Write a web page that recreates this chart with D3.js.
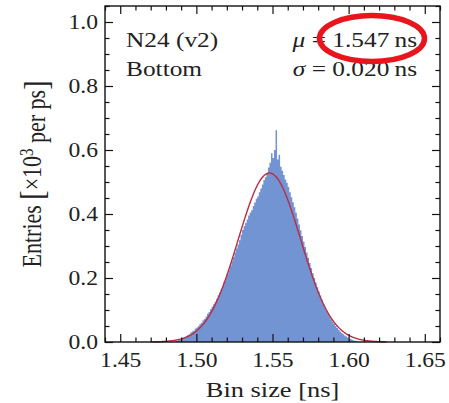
<!DOCTYPE html>
<html><head><meta charset="utf-8">
<script src="https://cdn.jsdelivr.net/npm/d3@7"></script>
<style>body{margin:0;background:#fff}svg text{font-family:"Liberation Serif","Times New Roman",serif;fill:#222}</style>
</head><body>
<svg id="c" width="449" height="403"></svg>
<script>
// ---- data ----
const binStart = 1.486;          // left edge of first bin [ns]
const binWidth = 0.001;          // 1 ps bins
const entries = [                // entries [x10^3 per ps]
  0.003,0.004,0.006,0.008,0.010,0.012,0.016,0.018,0.022,0.024,
  0.030,0.033,0.036,0.042,0.045,0.050,0.056,0.060,0.068,0.072,
  0.080,0.088,0.094,0.102,0.110,0.118,0.126,0.135,0.146,0.155,
  0.166,0.175,0.188,0.200,0.212,0.224,0.238,0.252,0.265,0.280,
  0.292,0.305,0.318,0.335,0.350,0.362,0.372,0.383,0.395,0.405,
  0.412,0.425,0.436,0.448,0.455,0.468,0.480,0.492,0.506,0.515,
  0.528,0.545,0.560,0.590,0.575,0.600,0.662,0.570,0.585,0.548,
  0.535,0.522,0.508,0.498,0.484,0.468,0.452,0.437,0.421,0.404,
  0.386,0.367,0.349,0.331,0.314,0.297,0.280,0.263,0.247,0.231,
  0.215,0.200,0.186,0.171,0.158,0.145,0.132,0.119,0.106,0.097,
  0.089,0.080,0.071,0.063,0.057,0.050,0.044,0.038,0.033,0.028,
  0.024,0.020,0.017,0.014,0.011,0.009,0.007,0.005,0.004,0.003
];
const xTicks = [1.45, 1.50, 1.55, 1.60, 1.65];
const xTickLabels = ["1.45", "1.50", "1.55", "1.60", "1.65"];
const yTicks = [0.0, 0.2, 0.4, 0.6, 0.8, 1.0];
const yTickLabels = ["0.0", "0.2", "0.4", "0.6", "0.8", "1.0"];
const fitMu = 1.548, fitSigma = 0.0205, fitAmp = 0.528;   // fitted Gaussian
const infoLeft = ["N24 (v2)", "Bottom"];
const muText = "1.547", sigmaText = "0.020";

// ---- layout ----
const svg = d3.select("#c");
const L = 105, R = 440, T = 6, B = 342;
const SX = 1.18;
const x = d3.scaleLinear().domain([1.44, 1.66]).range([L, R]);
const y = d3.scaleLinear().domain([0, 1.05]).range([B, T]);

// histogram
const pts = entries.map((v, i) => [binStart + i * binWidth, v]);
pts.push([binStart + entries.length * binWidth, entries[entries.length - 1]]);
const area = d3.area().curve(d3.curveStepAfter)
  .x(d => x(d[0])).y0(y(0)).y1(d => y(d[1]));
svg.append("path").datum(pts).attr("d", area)
  .attr("fill", "#6a8ed0").attr("fill-opacity", 0.95);

// fit curve
const fx = d3.range(1.47, 1.625, 0.0005);
const line = d3.line().x(d => x(d)).y(d => y(fitAmp * Math.exp(-0.5 * Math.pow((d - fitMu) / fitSigma, 2))));
svg.append("path").datum(fx).attr("d", line)
  .attr("fill", "none").attr("stroke", "#bb2d45").attr("stroke-width", 1.4);

// axes
const xMinor = d3.range(1.44, 1.6601, 0.01).filter(v => !xTicks.some(t => Math.abs(t - v) < 1e-6));
const yMinor = d3.range(0.05, 1.051, 0.05).filter(v => !yTicks.some(t => Math.abs(t - v) < 1e-6));
function axisGroup(axis, tr) {
  const g = svg.append("g").attr("transform", tr).call(axis);
  g.select(".domain").remove();
  g.selectAll("line").attr("stroke", "#111").attr("stroke-width", 1.2);
  return g;
}
// bottom
const gb = axisGroup(d3.axisBottom(x).tickValues(xTicks).tickFormat((d, i) => xTickLabels[i]).tickSize(-8).tickPadding(11), `translate(0,${B})`);
gb.selectAll("text").attr("font-size", 20).attr("transform", `scale(${SX},1)`);
axisGroup(d3.axisBottom(x).tickValues(xMinor).tickFormat("").tickSize(-4.5), `translate(0,${B})`);
// top
axisGroup(d3.axisTop(x).tickValues(xTicks).tickFormat("").tickSize(-8), `translate(0,${T})`);
axisGroup(d3.axisTop(x).tickValues(xMinor).tickFormat("").tickSize(-4.5), `translate(0,${T})`);
// left
const gl = axisGroup(d3.axisLeft(y).tickValues(yTicks).tickFormat((d, i) => yTickLabels[i]).tickSize(-8).tickPadding(7 / SX), `translate(${L},0)`);
gl.selectAll("text").attr("font-size", 20).attr("transform", `scale(${SX},1)`);
axisGroup(d3.axisLeft(y).tickValues(yMinor).tickFormat("").tickSize(-4.5), `translate(${L},0)`);
// right
axisGroup(d3.axisRight(y).tickValues(yTicks).tickFormat("").tickSize(-8), `translate(${R},0)`);
axisGroup(d3.axisRight(y).tickValues(yMinor).tickFormat("").tickSize(-4.5), `translate(${R},0)`);
// frame
svg.append("rect").attr("x", L).attr("y", T).attr("width", R - L).attr("height", B - T)
  .attr("fill", "none").attr("stroke", "#111").attr("stroke-width", 1.4);

// axis titles
const xt = svg.append("text").attr("transform", `translate(${(L + R) / 2},397) scale(1.2,1)`)
  .attr("text-anchor", "middle").attr("font-size", 22);
xt.text("Bin size [ns]");
const yt = svg.append("text").attr("transform", `translate(41,${(T + B) / 2}) rotate(-90) scale(1,1.2)`)
  .attr("text-anchor", "middle").attr("font-size", 22);
yt.append("tspan").text("Entries ");
yt.append("tspan").attr("font-size", 28).attr("dy", "0.06em").text("[");
yt.append("tspan").attr("dy", "-0.06em").text("×10");
yt.append("tspan").attr("dy", "-0.45em").attr("font-size", 15).text("3");
yt.append("tspan").attr("dy", "0.45em").text(" per ps");
yt.append("tspan").attr("font-size", 28).attr("dy", "0.06em").text("]");

// info text
infoLeft.forEach((s, i) => {
  svg.append("text").attr("transform", `translate(126,${47 + i * 29}) scale(${SX},1)`)
    .attr("font-size", 21.5).text(s);
});
function stat(sym, val, yy) {
  const t = svg.append("text").attr("transform", `translate(417,${yy}) scale(${SX},1)`)
    .attr("text-anchor", "end").attr("font-size", 21.5);
  t.append("tspan").attr("font-style", "italic").text(sym);
  t.append("tspan").text(" = " + val + "\u2009ns");
}
stat("μ", muText, 47);
stat("σ", sigmaText, 76);

// highlight ellipse
svg.append("ellipse").attr("cx", 372).attr("cy", 38.5).attr("rx", 52.5).attr("ry", 23)
  .attr("fill", "none").attr("stroke", "#e8161c").attr("stroke-width", 5.5);
</script>
</body></html>
